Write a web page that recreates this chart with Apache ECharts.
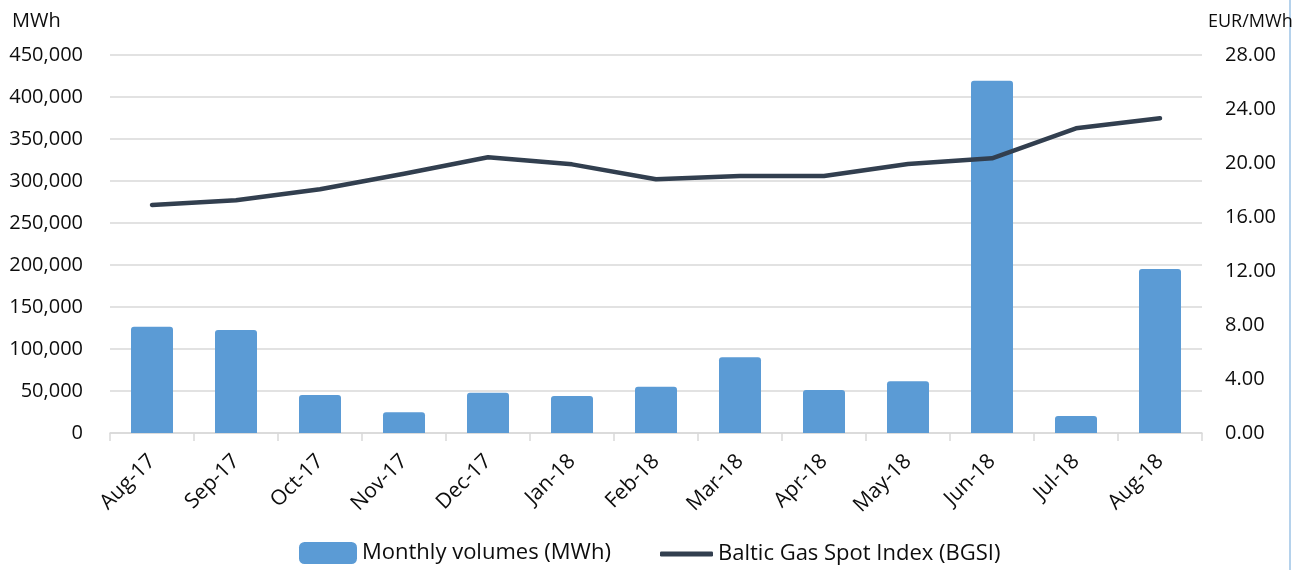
<!DOCTYPE html>
<html>
<head>
<meta charset="utf-8">
<script src="https://cdn.jsdelivr.net/npm/echarts@6/dist/echarts.min.js"></script>
<style>
  html, body { margin: 0; padding: 0; background: #fff; }
  #chart { width: 1298px; height: 570px; }
</style>
</head>
<body>
<div id="chart"></div>
<script>
// monthly data
var months = ['Aug-17', 'Sep-17', 'Oct-17', 'Nov-17', 'Dec-17', 'Jan-18', 'Feb-18',
              'Mar-18', 'Apr-18', 'May-18', 'Jun-18', 'Jul-18', 'Aug-18'];
var volumes = [126500, 122600, 45200, 24600, 48000, 44000, 55100,
               90100, 51200, 61500, 419400, 20200, 195200];
var bgsi = [16.89, 17.24, 18.05, 19.2, 20.42, 19.9, 18.79,
            19.04, 19.04, 19.93, 20.35, 22.57, 23.31];

var volName = 'Monthly volumes (MWh)';
var priceName = 'Baltic Gas Spot Index (BGSI)';

var font = '"Open Sans", "Noto Sans", sans-serif';
var textColor = '#0d0d0d';
var gridColor = '#d9d9d9';
var lineColor = '#323f4f';

var myChart = echarts.init(document.getElementById('chart'));
myChart.setOption({
    textStyle: { fontFamily: font, color: textColor },
    animation: false,
    grid: { left: 110, right: 96, top: 55, bottom: 137, outerBoundsMode: 'none', containLabel: false },
    legend: [
        {
            left: 294,
            bottom: 1,
            itemWidth: 58,
            itemHeight: 22,
            textStyle: { fontFamily: font, fontSize: 22, color: textColor },
            data: [{ name: volName, icon: 'roundRect' }]
        },
        {
            left: 655,
            bottom: 0,
            itemWidth: 53,
            itemHeight: 5,
            textStyle: { fontFamily: font, fontSize: 22, color: textColor },
            data: [{ name: priceName, icon: 'roundRect', itemStyle: { color: lineColor } }]
        }
    ],
    xAxis: {
        type: 'category',
        data: months,
        axisLine: { lineStyle: { color: gridColor, width: 1.5 } },
        axisTick: { show: true, length: 8, lineStyle: { color: gridColor, width: 1.5 } },
        axisLabel: {
            rotate: 45,
            margin: 25,
            fontSize: 21,
            fontFamily: font,
            color: textColor
        }
    },
    yAxis: [
        {
            type: 'value',
            name: 'MWh',
            nameLocation: 'end',
            nameGap: 24,
            nameTextStyle: { fontSize: 20, fontFamily: font, color: textColor, align: 'left', padding: [0, 0, 0, -98] },
            min: 0,
            max: 450000,
            interval: 50000,
            axisLine: { show: false },
            axisTick: { show: false },
            splitLine: { lineStyle: { color: gridColor, width: 1.5 } },
            axisLabel: {
                margin: 27,
                fontSize: 20,
                fontFamily: font,
                color: textColor,
                formatter: function (v) { return v.toLocaleString('en-US'); }
            }
        },
        {
            type: 'value',
            name: 'EUR/MWh',
            nameLocation: 'end',
            nameGap: 24,
            nameTextStyle: { fontSize: 18, fontFamily: font, color: textColor, align: 'left', padding: [0, 0, 0, 6] },
            min: 0,
            max: 28,
            interval: 4,
            axisLine: { show: false },
            axisTick: { show: false },
            splitLine: { show: false },
            axisLabel: {
                margin: 23,
                fontSize: 20,
                fontFamily: font,
                color: textColor,
                formatter: function (v) { return v.toFixed(2); }
            }
        }
    ],
    series: [
        {
            name: volName,
            type: 'bar',
            data: volumes,
            barWidth: 42,
            itemStyle: { color: '#5b9bd5', borderRadius: [3, 3, 0, 0] }
        },
        {
            name: priceName,
            type: 'line',
            yAxisIndex: 1,
            data: bgsi,
            symbol: 'none',
            lineStyle: { color: lineColor, width: 4.5, cap: 'round', join: 'round' },
            itemStyle: { color: lineColor },
            z: 3
        }
    ],
    graphic: [
        {
            type: 'line',
            shape: { x1: 1290, y1: 0, x2: 1290, y2: 570 },
            style: { stroke: '#9dc3e6', lineWidth: 1.5 }
        }
    ]
});
window.addEventListener('resize', function () {
    myChart.resize();
});
</script>
</body>
</html>
